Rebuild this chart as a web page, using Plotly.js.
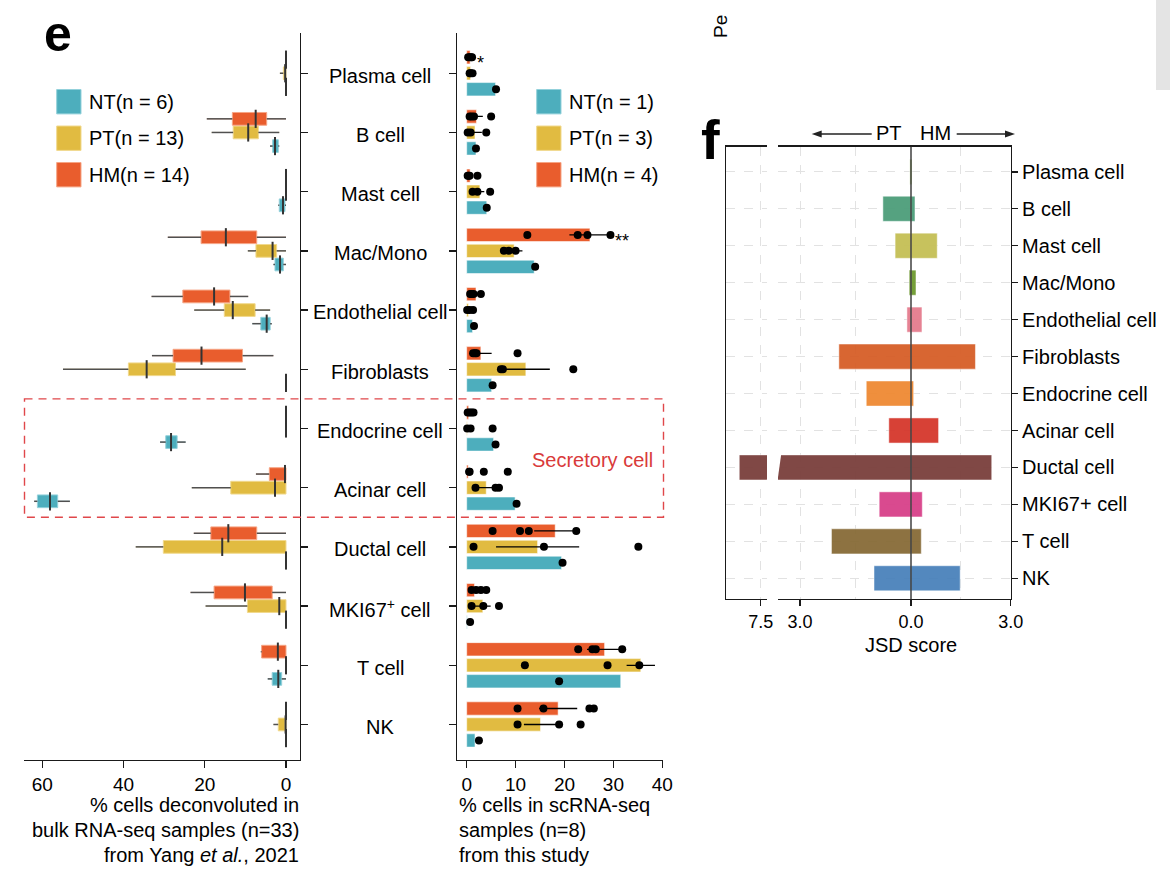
<!DOCTYPE html>
<html><head><meta charset="utf-8">
<script src="https://cdn.plot.ly/plotly-3.0.1.min.js"></script>
<style>html,body{margin:0;padding:0;background:#fff;}#chart{width:1170px;height:880px;}</style>
</head><body><div id="chart"></div>
<script>
// ---------------- DATA ----------------
const cats = ['Plasma cell','B cell','Mast cell','Mac/Mono','Endothelial cell','Fibroblasts','Endocrine cell','Acinar cell','Ductal cell','MKI67<sup>+</sup> cell','T cell','NK'];
const groups = ['NT','PT','HM'];
const nBulk = [6, 13, 14];
const nSc = [1, 3, 4];
const groupColors = ['#4DAEBD', '#E1BB41', '#E95D2D'];
const groupEdge = ['#93D1DB', '#F1D98E', '#F6A585'];

// panel e, left: deconvoluted bulk RNA-seq (%), box stats
const bulkHM_lo  = [0, 0,    0, 0,    9.3,  3.1,  0, 0,    0,    0,    0,   0];
const bulkHM_q1  = [0, 4.75, 0, 7.2,  13.8, 10.7, 0, 0,    7.2,  3.4,  0,   0];
const bulkHM_med = [0, 7.46, 0, 14.8, 17.7, 20.8, 0, 0.25, 14.2, 10.1, 2.0, 0];
const bulkHM_q3  = [0, 13.2, 0, 20.9, 25.4, 27.8, 0, 4.1,  18.5, 17.7, 6.0, 0];
const bulkHM_hi  = [0, 19.5, 0, 29.1, 33.1, 33.0, 0, 7.4,  22.7, 23.5, 6.2, 0];

const bulkPT_lo  = [0,    1.65, 0, 0,   3.9,  9.9,  0, 0,    0,    0,    0, 0];
const bulkPT_q1  = [0,    6.8,  0, 2.3, 7.6,  27.2, 0, 0,    0,    0,    0, 0];
const bulkPT_med = [0.2,  9.3,  0, 3.3, 13.1, 34.3, 0, 2.7,  15.7, 1.65, 0, 0.1];
const bulkPT_q3  = [0.65, 13.0, 0, 7.4, 15.2, 38.8, 0, 13.6, 30.2, 9.5,  0, 1.9];
const bulkPT_hi  = [1.5,  18.3, 0, 9.4, 22.6, 54.9, 0, 23.2, 37.0, 19.8, 0, 3.1];

const bulkNT_lo  = [0, 1.65, 0,    0,    3.5,  0, 24.7, 53.2, 0, 0, 0,    0];
const bulkNT_q1  = [0, 1.9,  0.25, 0.67, 3.9,  0, 26.8, 56.2, 0, 0, 1.06, 0];
const bulkNT_med = [0, 2.71, 0.74, 1.48, 4.75, 0, 28.3, 58.1, 0, 0, 1.9,  0];
const bulkNT_q3  = [0, 3.28, 1.65, 2.71, 6.2,  0, 29.6, 61.2, 0, 0, 3.4,  0];
const bulkNT_hi  = [0, 3.94, 1.9,  3.1,  8.3,  0, 31.0, 62.0, 0, 0, 4.5,  0];

// panel e, middle: scRNA-seq (%), bar + error + samples
const scHM_bar = [0.7, 2.0, 0.7, 25.2, 1.9, 2.9, 0.4, 0.3, 18.1, 1.6, 28.2, 18.7];
const scHM_err = [0.3, 1.3, 0.5, 4.2,  0.5, 2.2, 0.3, 0,   4.3,  0.7, 3.6,  3.9];
const scHM_dots = [[0.3,0.6,0.9,1.1],[0.6,1.0,1.5,5.0],[0.2,0.4,0.6,2.2],[12.4,22.7,24.7,29.4],[0.7,1.0,1.4,2.9],[1.3,1.7,2.0,10.4],[0.2,0.6,1.0,1.4],[0.5,0.6,3.5,8.4],[5.3,10.9,12.7,22.4],[1.0,1.9,2.9,4.0],[22.8,25.7,26.4,31.8],[10.4,15.7,25.1,26.0]];
const scHM_sig = ['*','','','**','','','','','','','',''];

const scPT_bar = [0.8, 1.7, 2.7, 9.7, 0.35, 12.1, 0.1, 4.0, 14.5, 3.3, 35.6, 15.1];
const scPT_err = [0.2, 1.4, 0.9, 1.7, 0.3,  4.9,  0,   1.6, 8.5,  1.6, 2.9,  3.4];
const scPT_dots = [[0.6,0.8,1.2],[0.2,0.8,4.0],[1.2,2.2,4.8],[7.6,8.6,10.0],[0.1,0.6,1.3],[7.0,7.4,21.8],[0.1,0.8,5.3],[1.8,5.9,6.6],[1.4,15.8,35.1],[1.0,3.4,6.6],[11.9,28.8,35.3],[10.4,18.9,23.3]];

const scNT_bar = [5.9, 1.9, 4.1, 13.8, 1.2, 5.1, 5.5, 9.9, 19.4, 0.1, 31.5, 1.7];
const scNT_dots = [6.0, 1.9, 4.1, 14.0, 1.5, 5.3, 5.9, 10.2, 19.6, 0.7, 18.9, 2.5];

// panel f: JSD score
const catsF = ['Plasma cell','B cell','Mast cell','Mac/Mono','Endothelial cell','Fibroblasts','Endocrine cell','Acinar cell','Ductal cell','MKI67+ cell','T cell','NK'];
const jsdPT = [0.03, 0.76, 0.43, 0.05, 0.11, 1.95, 1.21, 0.60, 8.08, 0.86, 2.15, 1.00];
const jsdHM = [0.03, 0.12, 0.79, 0.15, 0.33, 1.94, 0.08, 0.83, 2.43, 0.34, 0.31, 1.48];
const colorsF = ['#9DBF5A','#4C9D7A','#C4BF55','#6E9A2F','#E57C8E','#D65E28','#EF8A33','#D5372C','#7A3F3C','#D8418A','#876B37','#4A82BB'];

// ---------------- LAYOUT HELPERS ----------------
const W = 1170, H = 880;
const px = v => v / W;
const py = v => 1 - v / H;
const FONT = 'Liberation Sans, Arial, Helvetica, sans-serif';
const idx = cats.map((c, i) => i);
const idxF = catsF.map((c, i) => i);
const boxOff = [0.23, 0, -0.23];   // NT, PT, HM
const barOff = [0.27, 0, -0.27];

const traces = [];

// boxes
const bulk = [
  [bulkNT_lo, bulkNT_q1, bulkNT_med, bulkNT_q3, bulkNT_hi],
  [bulkPT_lo, bulkPT_q1, bulkPT_med, bulkPT_q3, bulkPT_hi],
  [bulkHM_lo, bulkHM_q1, bulkHM_med, bulkHM_q3, bulkHM_hi]
];
bulk.forEach((s, g) => {
  const pos = idx.map(i => i + boxOff[g]);
  traces.push({
    type: 'box', orientation: 'h', xaxis: 'x', yaxis: 'y', y: pos,
    lowerfence: s[0], q1: s[1], median: s[2], q3: s[3], upperfence: s[4],
    fillcolor: groupColors[g], line: {color: groupEdge[g], width: 1},
    width: 0.215, boxpoints: false, whiskerwidth: 0, hoverinfo: 'skip', showlegend: false
  });
  const wx = [], wy = [];
  idx.forEach(i => { wx.push(s[0][i], s[1][i], null, s[3][i], s[4][i], null); wy.push(pos[i], pos[i], null, pos[i], pos[i], null); });
  traces.push({type: 'scatter', mode: 'lines', xaxis: 'x', yaxis: 'y', x: wx, y: wy,
    line: {color: '#505050', width: 1.5}, hoverinfo: 'skip', showlegend: false});
  traces.push({type: 'scatter', mode: 'markers', xaxis: 'x', yaxis: 'y', x: s[2], y: pos,
    marker: {symbol: 'line-ns', size: 13, color: '#333', line: {color: '#333', width: 2}},
    hoverinfo: 'skip', showlegend: false});
});

// bars
const scBars = [scNT_bar, scPT_bar, scHM_bar];
const scErr = [null, scPT_err, scHM_err];
const scDots = [scNT_dots.map(v => [v]), scPT_dots, scHM_dots];
scBars.forEach((vals, g) => {
  const pos = idx.map(i => i + barOff[g]);
  traces.push({
    type: 'bar', orientation: 'h', xaxis: 'x2', yaxis: 'y2', x: vals, y: pos, width: 0.225,
    marker: {color: groupColors[g], line: {color: 'rgba(255,255,255,0.55)', width: 1}},
    error_x: scErr[g] ? {type: 'data', array: scErr[g], symmetric: true, color: '#000', thickness: 1.3, width: 0} : {visible: false},
    hoverinfo: 'skip', showlegend: false
  });
});
scDots.forEach((d, g) => {
  const xs = [], ys = [];
  d.forEach((arr, i) => arr.forEach(v => { xs.push(v); ys.push(i + barOff[g]); }));
  traces.push({type: 'scatter', mode: 'markers', xaxis: 'x2', yaxis: 'y2', x: xs, y: ys,
    marker: {color: '#000', size: 8}, hoverinfo: 'skip', showlegend: false});
});

// JSD bars
const barF = {type: 'bar', orientation: 'h', width: 0.68, opacity: 0.95,
  marker: {color: colorsF, line: {color: 'rgba(255,255,255,0.5)', width: 1}}, hoverinfo: 'skip', showlegend: false};
traces.push(Object.assign({}, barF, {xaxis: 'x3', yaxis: 'y3', x: jsdPT.map(v => -v), y: idxF}));
traces.push(Object.assign({}, barF, {xaxis: 'x4', yaxis: 'y3', x: jsdPT.map(v => -v), y: idxF}));
traces.push(Object.assign({}, barF, {xaxis: 'x5', yaxis: 'y4', x: jsdHM, y: idxF}));

// ---------------- AXES ----------------
const INK = '#1a1a1a';
const axBase = {showline: true, linecolor: INK, linewidth: 1.4, ticks: 'outside', ticklen: 7, tickwidth: 1.4,
  tickcolor: INK, zeroline: false, showgrid: false, fixedrange: true, tickfont: {size: 19, color: '#000'}};
const gridF = {showgrid: true, gridcolor: '#E2E2E2', griddash: 'dash', gridwidth: 1};
const minorF = v => ({tickvals: v, showgrid: true, gridcolor: '#E2E2E2', griddash: 'dash', gridwidth: 1, ticks: ''});
const domE = [py(760), py(33)];
const domF = [py(599), py(146.7)];
const rangeE = [11.6, -0.68];
const rangeF = [11.56, -0.68];

const layout = {
  width: W, height: H, margin: {l: 0, r: 0, t: 0, b: 0},
  paper_bgcolor: '#fff', plot_bgcolor: '#fff', showlegend: false, barmode: 'overlay', boxmode: 'overlay',
  font: {family: FONT, color: '#000', size: 19},
  xaxis: Object.assign({}, axBase, {domain: [px(24), px(300)], range: [64.5, -3.45], anchor: 'y', tickvals: [60, 40, 20, 0]}),
  yaxis: Object.assign({}, axBase, {domain: domE, range: rangeE, anchor: 'x', side: 'right', tickvals: idx, showticklabels: false}),
  xaxis2: Object.assign({}, axBase, {domain: [px(457.3), px(662.7)], range: [-1.92, 40.08], anchor: 'y2', tickvals: [0, 10, 20, 30, 40]}),
  yaxis2: Object.assign({}, axBase, {domain: domE, range: rangeE, anchor: 'x2', side: 'left', tickvals: idx, showticklabels: false}),
  xaxis3: Object.assign({}, axBase, gridF, {domain: [px(726), px(767)], range: [-8.438, -7.33], anchor: 'y3', mirror: true,
    tickvals: [-7.5], ticktext: ['7.5'], ticklen: 6, tickfont: {size: 18}}),
  xaxis4: Object.assign({}, axBase, gridF, {domain: [px(778), px(911)], range: [-3.595, 0], anchor: 'y3', mirror: true,
    tickvals: [-3], ticktext: ['3.0'], ticklen: 6, tickfont: {size: 18}, minor: minorF([-1.5])}),
  xaxis5: Object.assign({}, axBase, gridF, {domain: [px(911), px(1010.7)], range: [-0.0001, 3.0005], anchor: 'y4', mirror: true,
    tickvals: [0, 3], ticktext: ['0.0', '3.0'], ticklen: 6, tickfont: {size: 18}, minor: minorF([1.5])}),
  yaxis3: Object.assign({}, axBase, gridF, {domain: domF, range: rangeF, anchor: 'x3', side: 'left', ticks: '', tickvals: idxF, showticklabels: false}),
  yaxis4: Object.assign({}, axBase, gridF, {domain: domF, range: rangeF, anchor: 'x5', side: 'right', ticklen: 6,
    tickvals: idxF, ticktext: catsF, tickfont: {size: 20}}),
  annotations: [], shapes: []
};

const A = layout.annotations, S = layout.shapes;
const txt = (o) => A.push(Object.assign({showarrow: false, xanchor: 'center', yanchor: 'middle',
  font: {family: FONT, size: 20, color: '#000'}}, o));

// panel letters
txt({xref: 'paper', yref: 'paper', x: px(58), y: py(33.5), text: '<b>e</b>', font: {family: FONT, size: 50, color: '#000'}});
txt({xref: 'paper', yref: 'paper', x: px(710), y: py(139), text: '<b>f</b>', font: {family: FONT, size: 56, color: '#000'}});
txt({xref: 'paper', yref: 'paper', x: px(721), y: py(27), text: 'Pe', textangle: -90, font: {family: FONT, size: 19, color: '#000'}});

// category labels panel e
cats.forEach((c, i) => txt({xref: 'paper', yref: 'y', x: px(380), y: i + 0.04, text: c}));

// legends
groups.forEach((g, k) => {
  const yc = 101.7 + 36.5 * k;
  [[56.7, nBulk], [536.7, nSc]].forEach(([x0, ns]) => {
    S.push({type: 'rect', xref: 'paper', yref: 'paper', x0: px(x0), x1: px(x0 + 24.3), y0: py(yc + 12.2), y1: py(yc - 12.2),
      fillcolor: groupColors[k], line: {color: groupEdge[k], width: 1}});
    txt({xref: 'paper', yref: 'paper', x: px(x0 + 30.6), y: py(yc), xanchor: 'left', text: g + '(n = ' + ns[k] + ')'});
  });
});

// significance stars
scHM_sig.forEach((s, i) => {
  if (!s) return;
  const xm = Math.max(scHM_bar[i] + scHM_err[i], ...scHM_dots[i]);
  txt({xref: 'x2', yref: 'y2', x: xm, y: i + barOff[2], text: s, xanchor: 'left', xshift: 3, yshift: -6, font: {family: FONT, size: 18, color: '#000'}});
});

// secretory cell box
const iEndo = cats.indexOf('Endocrine cell'), iAc = cats.indexOf('Acinar cell');
S.push({type: 'rect', xref: 'paper', yref: 'y', x0: px(24.5), x1: px(663.5), y0: iEndo - 0.5, y1: iAc + 0.5,
  line: {color: '#E0474A', width: 1.4, dash: '8px,6px'}, fillcolor: 'rgba(0,0,0,0)'});
txt({xref: 'paper', yref: 'y', x: px(530), y: (iEndo + iAc) / 2 + 0.03, xanchor: 'left', text: 'Secretory cell', font: {family: FONT, size: 20, color: '#D93A3A'}});

// axis titles
['% cells deconvoluted in', 'bulk RNA-seq samples (n=33)', 'from Yang <i>et al.</i>, 2021'].forEach((t, k) =>
  txt({xref: 'paper', yref: 'paper', x: px(301), y: py(805 + 25 * k), xanchor: 'right', text: t}));
['% cells in scRNA-seq', 'samples (n=8)', 'from this study'].forEach((t, k) =>
  txt({xref: 'paper', yref: 'paper', x: px(457), y: py(805 + 25 * k), xanchor: 'left', text: t}));
txt({xref: 'paper', yref: 'paper', x: px(911), y: py(645), text: 'JSD score'});

// PT / HM direction header with arrows
txt({xref: 'paper', yref: 'paper', x: px(889), y: py(133), text: 'PT'});
txt({xref: 'paper', yref: 'paper', x: px(935), y: py(133), text: 'HM'});
const arrowY = 134;
[[811.7, 871.7, 1], [1015, 956.7, -1]].forEach(([tip, tail, dir]) => {
  S.push({type: 'line', xref: 'paper', yref: 'paper', x0: px(tail), x1: px(tip + dir * 6), y0: py(arrowY), y1: py(arrowY),
    line: {color: '#222', width: 1.3}});
  S.push({type: 'path', xref: 'paper', yref: 'paper', fillcolor: '#222', line: {width: 0},
    path: 'M' + px(tip) + ',' + py(arrowY) + ' L' + px(tip + dir * 10) + ',' + py(arrowY - 3.5) + ' L' + px(tip + dir * 10) + ',' + py(arrowY + 3.5) + ' Z'});
});

// zero line in panel f (drawn over the bars)
S.push({type: 'line', xref: 'paper', yref: 'paper', x0: layout.xaxis5.domain[0], x1: layout.xaxis5.domain[0],
  y0: domF[0], y1: domF[1], line: {color: '#333', width: 1.4}, layer: 'above'});
// slanted break through the Ductal cell bar
const iDu = catsF.indexOf('Ductal cell');
S.push({type: 'path', xref: 'paper', yref: 'y3', layer: 'above', fillcolor: '#fff', line: {width: 0},
  path: 'M' + px(766.2) + ',' + (iDu + 0.42) + ' L' + px(777.2) + ',' + (iDu + 0.42) + ' L' + px(781.5) + ',' + (iDu - 0.42) + ' L' + px(772.5) + ',' + (iDu - 0.42) + ' Z'});
// grey strip at the top-right corner
S.push({type: 'rect', xref: 'paper', yref: 'paper', x0: px(1156), x1: 1, y0: py(90), y1: 1, fillcolor: '#E4E4E4', line: {width: 0}, layer: 'below'});

Plotly.newPlot('chart', traces, layout, {displayModeBar: false, staticPlot: true});
</script>
</body></html>
